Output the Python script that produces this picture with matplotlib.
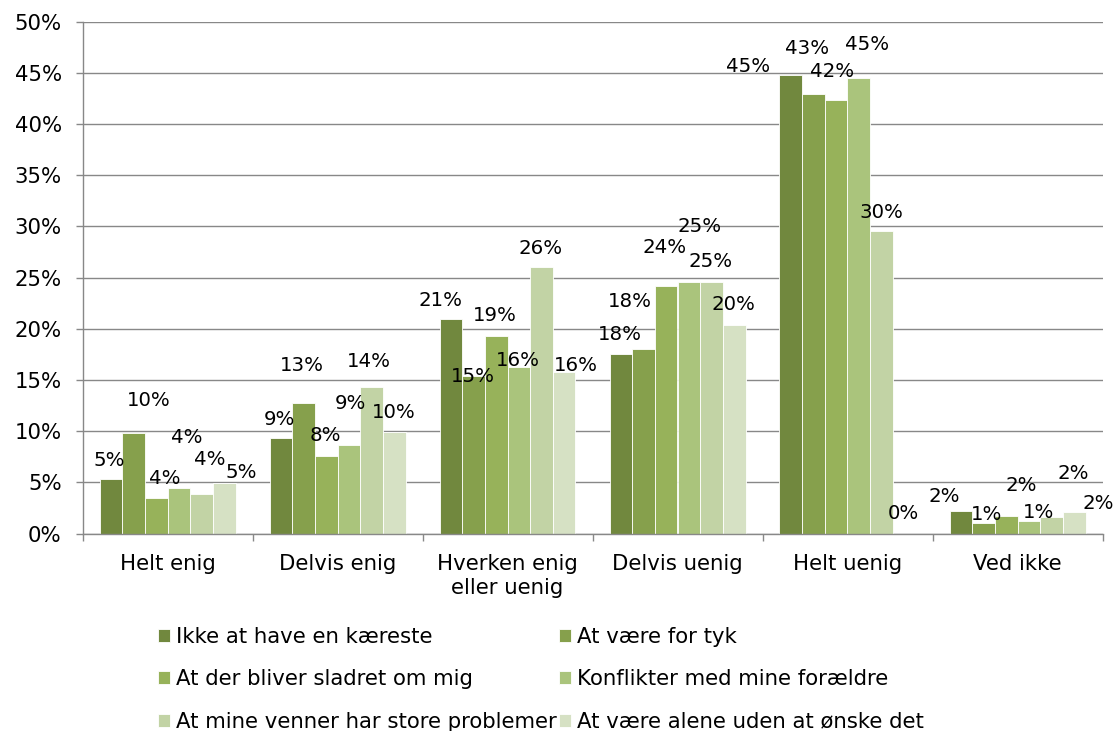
import matplotlib
matplotlib.use("Agg")
import matplotlib.pyplot as plt
import numpy as np
from matplotlib.ticker import FuncFormatter, FixedLocator

categories = ["Helt enig", "Delvis enig", "Hverken enig\neller uenig",
              "Delvis uenig", "Helt uenig", "Ved ikke"]
series_names = ["Ikke at have en kæreste", "At være for tyk",
                "At der bliver sladret om mig", "Konflikter med mine forældre",
                "At mine venner har store problemer", "At være alene uden at ønske det"]
s_kaereste = [5.3, 9.3, 20.9, 17.5, 44.8, 2.2]
s_tyk = [9.8, 12.7, 15.4, 18.0, 42.9, 1.0]
s_sladret = [3.5, 7.6, 19.3, 24.2, 42.3, 1.7]
s_konflikter = [4.4, 8.6, 16.3, 24.6, 44.5, 1.2]
s_venner = [3.9, 14.3, 26.0, 24.6, 29.5, 1.6]
s_alene = [4.9, 9.9, 15.8, 20.4, 0.0, 2.1]
series = [s_kaereste, s_tyk, s_sladret, s_konflikter, s_venner, s_alene]
yticks = [0, 5, 10, 15, 20, 25, 30, 35, 40, 45, 50]

colors = ["#71883E", "#86A04C", "#97B25A", "#AAC47C", "#C2D3A5", "#D6E1C4"]

# label offsets (pixels) relative to bar top centre, per series / category
label_dx = [[-1.5, -1.5, -10.8, -0.8, -42.5, -16.8],
            [14.8, -1.2, -0.8, -13.5, -6.2, 3.2],
            [8.1, -1.2, -1.2, -1.2, -4.5, 15.5],
            [7.9, 1.9, -0.5, 11.2, 8.5, 9.5],
            [8.5, -2.5, -0.8, -0.8, -0.5, 21.5],
            [17.5, -0.9, 11.5, -0.9, -0.9, 24.1]]
label_dy = [[20.9, 21.0, 21.2, 22.0, 10.4, 16.0],
            [34.8, 40.2, 1.5, 49.2, 47.5, 10.6],
            [21.0, 22.4, 21.9, 39.7, 31.3, 32.1],
            [53.4, 43.7, 8.3, 56.6, 35.5, 11.2],
            [35.9, 27.1, 20.6, 21.6, 20.7, 46.1],
            [12.6, 22.1, 8.4, 21.9, 21.8, 10.3]]

W, H = 1116, 731
fig = plt.figure(figsize=(W / 100, H / 100), dpi=100)
ax = fig.add_axes([82.5 / W, 1 - 533.5 / H, 1020 / W, 512 / H])

grid_col = "#888888"
n = len(series)
w = 0.8 / n
x = np.arange(len(categories))
handles = []
for j, (vals, col) in enumerate(zip(series, colors)):
    pos = x + (j - (n - 1) / 2) * w
    bars = ax.bar(pos, vals, w, color=col, edgecolor="white", linewidth=0.6,
                  zorder=2, label=series_names[j])
    handles.append(bars[0])
    for k, b in enumerate(bars):
        v = vals[k]
        ax.annotate(f"{int(v + 0.5)}%",
                    xy=(b.get_x() + b.get_width() / 2, b.get_height()),
                    xytext=(label_dx[j][k], label_dy[j][k] - 2),
                    textcoords="offset pixels", ha="center", va="center",
                    fontsize=14.2, color="#000000", zorder=4)

ax.set_xlim(-0.5, len(categories) - 0.5)
ax.set_ylim(0, 50)
ax.set_yticks(yticks)
ax.yaxis.set_major_formatter(FuncFormatter(lambda v, p: f"{int(v)}%"))
ax.yaxis.grid(True, color=grid_col, linewidth=1.0, zorder=0)
ax.set_axisbelow(True)

ax.xaxis.set_major_locator(FixedLocator(np.arange(-0.5, len(categories), 1.0)))
ax.xaxis.set_minor_locator(FixedLocator(x))
ax.set_xticklabels([])
ax.set_xticklabels(categories, minor=True)
ax.tick_params(axis="x", which="major", length=5, width=1.0, color=grid_col, direction="out")
ax.tick_params(axis="x", which="minor", length=0, pad=14.5, labelsize=15.3)
ax.tick_params(axis="y", length=5, width=1.0, color=grid_col, direction="out",
               pad=10, labelsize=15.3)
for lab in ax.get_xticklabels(minor=True):
    lab.set_linespacing(1.25)

for s in ["top", "right"]:
    ax.spines[s].set_visible(False)
for s in ["left", "bottom"]:
    ax.spines[s].set_color(grid_col)
    ax.spines[s].set_linewidth(1.0)

order = [0, 2, 4, 1, 3, 5]
fig.legend([handles[i] for i in order], [series_names[i] for i in order],
           ncol=2, loc="upper left", bbox_to_anchor=(158 / W, 1 - 627 / H),
           frameon=False, fontsize=15.3, handlelength=0.55, handleheight=0.55,
           handletextpad=0.3, columnspacing=0.1, labelspacing=1.05, borderpad=0,
           borderaxespad=0)

fig.savefig("out.png", dpi=100)
